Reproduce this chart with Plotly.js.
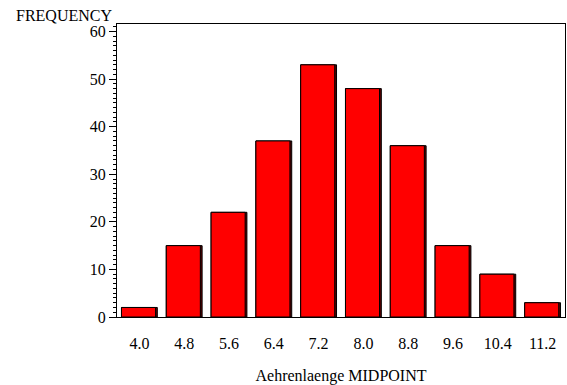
<!DOCTYPE html>
<html>
<head>
<meta charset="utf-8">
<script src="https://cdn.plot.ly/plotly-3.0.1.min.js"></script>
<style>html,body{margin:0;padding:0;background:#fff;}#chart{width:567px;height:385px;}</style>
</head>
<body>
<div id="chart"></div>
<script>
const midpoints = ["4.0", "4.8", "5.6", "6.4", "7.2", "8.0", "8.8", "9.6", "10.4", "11.2"];
const frequency = [2, 15, 22, 37, 53, 48, 36, 15, 9, 3];
const yTickValues = [0, 10, 20, 30, 40, 50, 60];

const fam = "Liberation Serif";
const tf = {family: fam, size: 16, color: "#000"};

const shadow = {
  type: "bar",
  x: midpoints,
  y: frequency,
  width: 0.8,
  offset: -0.4,
  marker: {color: "#5a0000", line: {color: "#000", width: 1}},
  hoverinfo: "skip"
};
const bars = {
  type: "bar",
  x: midpoints,
  y: frequency,
  width: 0.76,
  offset: -0.4,
  marker: {color: "#ff0000", line: {color: "#000", width: 1}},
  hoverinfo: "x+y"
};

const layout = {
  width: 567,
  height: 385,
  margin: {l: 117, r: 2, t: 24, b: 68},
  paper_bgcolor: "#fff",
  plot_bgcolor: "#fff",
  font: tf,
  barmode: "overlay",
  showlegend: false,
  xaxis: {
    type: "category",
    range: [-0.5, 9.5],
    showline: true,
    mirror: true,
    linecolor: "#000",
    linewidth: 1,
    ticks: "",
    showgrid: false,
    zeroline: false,
    ticklabelstandoff: 12,
    tickfont: tf,
    title: {text: "Aehrenlaenge MIDPOINT", font: tf, standoff: 18}
  },
  yaxis: {
    range: [0, 61.58],
    tickvals: yTickValues,
    showline: true,
    mirror: true,
    linecolor: "#000",
    linewidth: 1,
    ticks: "outside",
    ticklen: 7,
    tickcolor: "#000",
    showgrid: false,
    zeroline: false,
    tickfont: tf,
    minor: {dtick: 1, ticks: "outside", ticklen: 3, tickcolor: "#000", showgrid: false}
  },
  annotations: [{
    text: "FREQUENCY",
    xref: "paper", yref: "paper",
    x: -103/448, y: 1,
    xanchor: "left", yanchor: "bottom",
    yshift: -2,
    showarrow: false,
    font: tf
  }]
};

Plotly.newPlot("chart", [shadow, bars], layout, {displayModeBar: false, staticPlot: true});
</script>
</body>
</html>
